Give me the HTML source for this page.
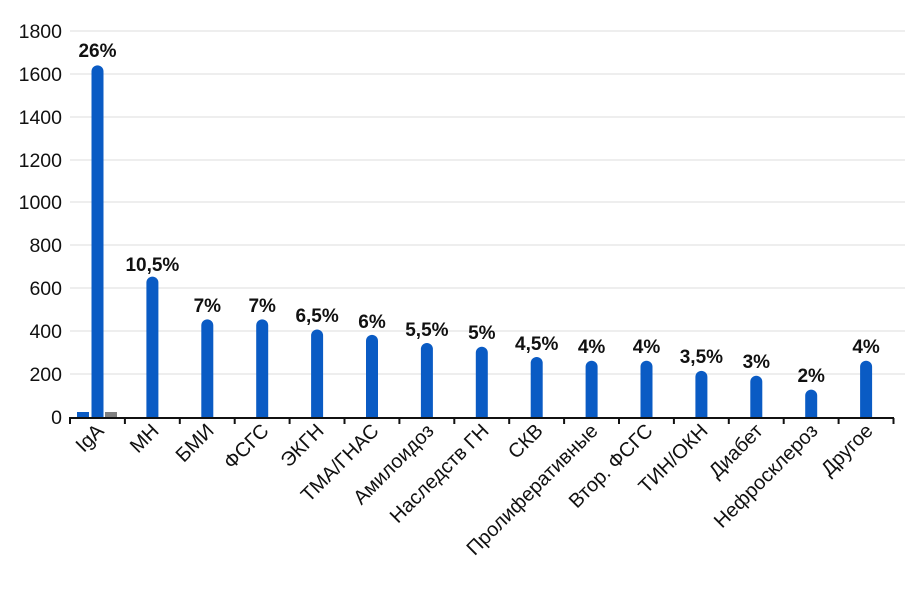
<!DOCTYPE html>
<html><head><meta charset="utf-8"><style>
html,body{margin:0;padding:0;background:#fff;}
svg{display:block;font-family:"Liberation Sans","DejaVu Sans",sans-serif;}
.y{font-size:19.5px;fill:#111;text-anchor:end}
.v{font-size:19px;font-weight:bold;fill:#111;text-anchor:middle}
.c{font-size:20px;fill:#111;text-anchor:end}
</style></head><body>
<svg width="916" height="599" viewBox="0 0 916 599">
<g stroke="#eeeeee" stroke-width="2">
<line x1="70" x2="905" y1="31" y2="31"/><line x1="70" x2="905" y1="74" y2="74"/><line x1="70" x2="905" y1="117" y2="117"/><line x1="70" x2="905" y1="160" y2="160"/><line x1="70" x2="905" y1="202" y2="202"/><line x1="70" x2="905" y1="245" y2="245"/><line x1="70" x2="905" y1="288" y2="288"/><line x1="70" x2="905" y1="331" y2="331"/><line x1="70" x2="905" y1="374" y2="374"/>
</g>
<g class="y">
<text x="62" y="38" class="y">1800</text><text x="62" y="81" class="y">1600</text><text x="62" y="124" class="y">1400</text><text x="62" y="167" class="y">1200</text><text x="62" y="209" class="y">1000</text><text x="62" y="252" class="y">800</text><text x="62" y="295" class="y">600</text><text x="62" y="338" class="y">400</text><text x="62" y="381" class="y">200</text><text x="62" y="424" class="y">0</text>
</g>
<g fill="#0a5bc4">
<rect x="77" y="412" width="12" height="6"/>
<path d="M91.5,418V71.4A6,6 0 0 1 103.5,71.4V418Z"/>
<path d="M146.4,418V282.6A6,6 0 0 1 158.4,282.6V418Z"/>
<path d="M201.3,418V325.4A6,6 0 0 1 213.3,325.4V418Z"/>
<path d="M256.2,418V325.4A6,6 0 0 1 268.2,325.4V418Z"/>
<path d="M311.1,418V335.5A6,6 0 0 1 323.1,335.5V418Z"/>
<path d="M366,418V340.9A6,6 0 0 1 378,340.9V418Z"/>
<path d="M420.9,418V349A6,6 0 0 1 432.9,349V418Z"/>
<path d="M475.8,418V352.7A6,6 0 0 1 487.8,352.7V418Z"/>
<path d="M530.7,418V363A6,6 0 0 1 542.7,363V418Z"/>
<path d="M585.6,418V366.8A6,6 0 0 1 597.6,366.8V418Z"/>
<path d="M640.5,418V366.8A6,6 0 0 1 652.5,366.8V418Z"/>
<path d="M695.4,418V376.9A6,6 0 0 1 707.4,376.9V418Z"/>
<path d="M750.3,418V381.8A6,6 0 0 1 762.3,381.8V418Z"/>
<path d="M805.2,418V395.6A6,6 0 0 1 817.2,395.6V418Z"/>
<path d="M860.1,418V366.8A6,6 0 0 1 872.1,366.8V418Z"/>
</g>
<rect x="105" y="412" width="12" height="6" fill="#808080"/>
<line x1="69" x2="894" y1="418" y2="418" stroke="#111" stroke-width="2"/>
<g stroke="#111" stroke-width="2">
<line x1="70" x2="70" y1="418" y2="424"/><line x1="124.9" x2="124.9" y1="418" y2="424"/><line x1="179.8" x2="179.8" y1="418" y2="424"/><line x1="234.7" x2="234.7" y1="418" y2="424"/><line x1="289.6" x2="289.6" y1="418" y2="424"/><line x1="344.5" x2="344.5" y1="418" y2="424"/><line x1="399.4" x2="399.4" y1="418" y2="424"/><line x1="454.3" x2="454.3" y1="418" y2="424"/><line x1="509.2" x2="509.2" y1="418" y2="424"/><line x1="564.1" x2="564.1" y1="418" y2="424"/><line x1="619" x2="619" y1="418" y2="424"/><line x1="673.9" x2="673.9" y1="418" y2="424"/><line x1="728.8" x2="728.8" y1="418" y2="424"/><line x1="783.7" x2="783.7" y1="418" y2="424"/><line x1="838.6" x2="838.6" y1="418" y2="424"/><line x1="893.5" x2="893.5" y1="418" y2="424"/>
</g>
<g class="v">
<text x="97.5" y="57">26%</text><text x="152.4" y="271">10,5%</text><text x="207.3" y="312">7%</text><text x="262.2" y="312">7%</text><text x="317.1" y="322">6,5%</text><text x="372" y="328">6%</text><text x="426.9" y="336">5,5%</text><text x="481.8" y="339">5%</text><text x="536.7" y="350">4,5%</text><text x="591.6" y="353">4%</text><text x="646.5" y="353">4%</text><text x="701.4" y="363">3,5%</text><text x="756.3" y="368">3%</text><text x="811.2" y="382">2%</text><text x="866.1" y="353">4%</text>
</g>
<g class="c">
<text transform="translate(105,432) rotate(-45)">IgA</text>
<text transform="translate(160,432) rotate(-45)">МН</text>
<text transform="translate(215,432) rotate(-45)">БМИ</text>
<text transform="translate(270,432) rotate(-45)">ФСГС</text>
<text transform="translate(325,432) rotate(-45)">ЭКГН</text>
<text transform="translate(380,432) rotate(-45)">ТМА/ГНАС</text>
<text transform="translate(435,432) rotate(-45)">Амилоидоз</text>
<text transform="translate(490,432) rotate(-45)">Наследств ГН</text>
<text transform="translate(544,432) rotate(-45)">СКВ</text>
<text transform="translate(599,432) rotate(-45)">Пролиферативные</text>
<text transform="translate(654,432) rotate(-45)">Втор. ФСГС</text>
<text transform="translate(709,432) rotate(-45)">ТИН/ОКН</text>
<text transform="translate(764,432) rotate(-45)">Диабет</text>
<text transform="translate(819,432) rotate(-45)">Нефросклероз</text>
<text transform="translate(874,432) rotate(-45)">Другое</text>
</g>
</svg>
</body></html>
